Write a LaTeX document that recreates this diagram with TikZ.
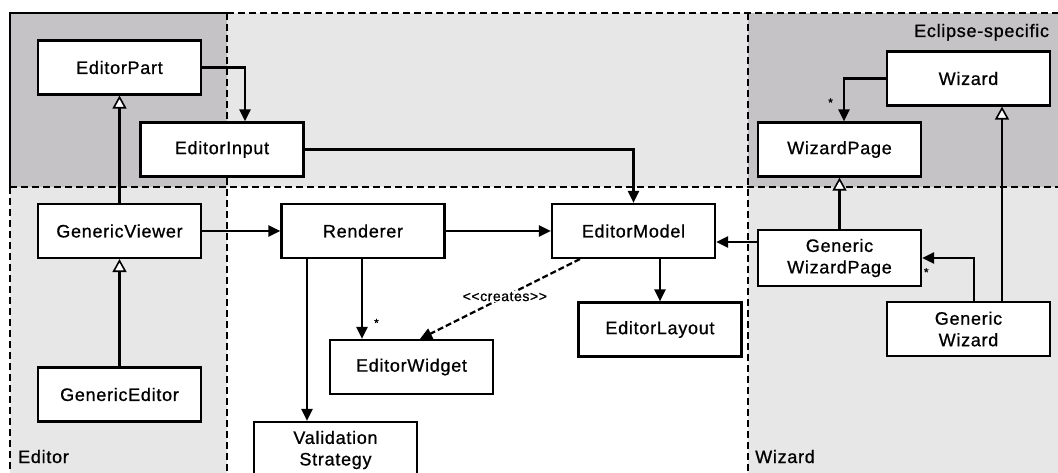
\documentclass[tikz,border=0pt]{standalone}
\usepackage{fontspec}
\setmainfont{Liberation Sans}[LetterSpace=4,UprightFeatures={FakeBold=0.8}]
\usetikzlibrary{arrows.meta,calc}
\definecolor{zonedark}{HTML}{C6C3C6}
\definecolor{zonelight}{HTML}{E7E7E7}
\begin{document}
\begin{tikzpicture}[x=1pt,y=-1pt,
  cls/.style={draw,line width=2.2pt,fill=white,inner sep=0pt,
    minimum width=163pt,minimum height=54pt,align=center,
    font=\fontsize{18}{21.5}\selectfont},
  zonelabel/.style={inner sep=0pt,font=\fontsize{18}{21}\selectfont},
  link/.style={line width=2.2pt},
  arr/.style={link,-{Triangle[length=12pt,width=11pt]}},
  inh/.style={link,-{Triangle[open,length=13pt,width=14pt,fill=white,line width=1.6pt]}},
  dep/.style={link,dash pattern=on 6pt off 3pt,-{Triangle[length=12pt,width=11pt]}},
  zoneline/.style={line width=1.8pt,dash pattern=on 7pt off 4pt},
  mult/.style={inner sep=0pt,font=\fontsize{12}{12}\selectfont}]
\useasboundingbox (0,0) rectangle (1058,473);
\fill[white] (0,0) rectangle (1058,473);

% zones
\fill[zonedark]  (10,13)  rectangle (227,187);
\fill[zonelight] (227,13) rectangle (748,187);
\fill[zonedark]  (748,13) rectangle (1062,187);
\fill[zonelight] (10,187) rectangle (227,477);
\fill[zonelight] (748,187) rectangle (1062,477);
\draw[line width=1.8pt] (10,187) -- (10,13) -- (227,13);
\draw[zoneline] (227,13) -- (1062,13);
\draw[zoneline] (10,187) -- (10,477);
\draw[zoneline] (227,13) -- (227,477);
\draw[zoneline] (748,13) -- (748,477);
\draw[zoneline] (10,187) -- (1062,187);

\node[zonelabel,anchor=base west] (lblEclipse) at (914,37) {Eclipse-specific};
\node[zonelabel,anchor=base west] (lblEditor) at (18,463) {Editor};
\node[zonelabel,anchor=base west] (lblWizard) at (755,463) {Wizard};

% classes
\node[cls] (EP)  at (119.5,67.5) {EditorPart};
\node[cls] (EI)  at (222,149.5)  {EditorInput};
\node[cls] (GV)  at (119.5,231)  {GenericViewer};
\node[cls] (GE)  at (119.5,394.5) {GenericEditor};
\node[cls] (R)   at (363,231)    {Renderer};
\node[cls] (EM)  at (633.5,231)  {EditorModel};
\node[cls] (EL)  at (660,329.5)  {EditorLayout};
\node[cls] (EW)  at (411.5,367)  {EditorWidget};
\node[cls,minimum height=56pt] (VS) at (335.5,450) {Validation\\Strategy};
\node[cls] (W)   at (968.5,78.5) {Wizard};
\node[cls] (WP)  at (839.5,149.5) {WizardPage};
\node[cls,minimum height=56pt] (GWP) at (839.5,258) {Generic\\WizardPage};
\node[cls] (GW)  at (968.5,329)  {Generic\\Wizard};

% connectors
\draw[arr] (EP.east) -| ([xshift=23pt]EI.north);
\draw[inh] (GV.north) -- (EP.south);
\draw[inh] (GE.north) -- (GV.south);
\draw[arr] (EI.east) -| (EM.north);
\draw[arr] (GV.east) -- (R.west);
\draw[arr] (R.east) -- (EM.west);
\draw[arr] ([xshift=-1pt]R.south) -- ([xshift=-1pt]R.south |- EW.north)
  node[mult,pos=0.8,right=11pt] (m1) {*};
\draw[arr] ([xshift=-56pt]R.south) -- ([xshift=-56pt]R.south |- VS.north);
\draw[arr] (EL.north |- EM.south) -- (EL.north);
\draw[dep] ([xshift=-53.5pt]EM.south) -- ([xshift=8.5pt]EW.north)
  node[pos=0.47,inner sep=1pt,fill=white,font=\fontsize{14}{15}\selectfont] (cr) {<{}<creates>{}>};
\draw[arr] ([yshift=16pt]GWP.west) -- ([yshift=16pt]GWP.west -| EM.east);
\draw[inh] (GWP.north) -- (WP.south);
\draw[arr] (W.west) -| ([xshift=4.5pt]WP.north)
  node[mult,pos=0.78,left=10pt] (m2) {*};
\draw[arr] ([xshift=5.5pt]GW.north) |- (GWP.east)
  node[mult,pos=0.96,below=9pt] (m3) {*};
\draw[inh] ([xshift=33.5pt]GW.north) -- ([xshift=33.5pt]GW.north |- W.south);
\end{tikzpicture}
\end{document}
